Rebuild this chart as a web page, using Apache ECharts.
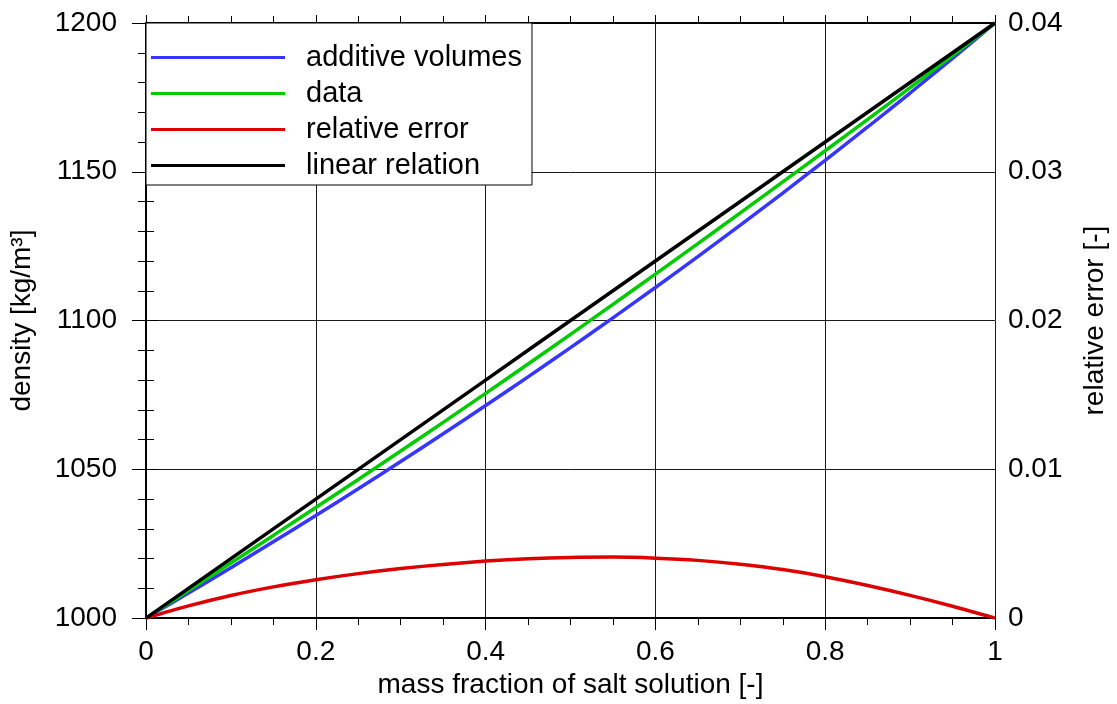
<!DOCTYPE html>
<html>
<head>
<meta charset="utf-8">
<title>Density of salt solution mixtures</title>
<script src="https://cdn.jsdelivr.net/npm/echarts@6/dist/echarts.min.js"></script>
<style>
  html, body { margin: 0; padding: 0; background: #fff; overflow: hidden; }
  #chart { width: 1117px; height: 704px; }
</style>
</head>
<body>
<div id="chart"></div>
<script>
// mass fraction of salt solution [-]
const massFraction = [0, 0.05, 0.1, 0.15, 0.2, 0.25, 0.3, 0.35, 0.4, 0.45, 0.5,
                      0.55, 0.6, 0.65, 0.7, 0.75, 0.8, 0.85, 0.9, 0.95, 1];

// density [kg/m³] assuming additive volumes
const additiveVolumes = [1000, 1008.40, 1016.95, 1025.64, 1034.48, 1043.48, 1052.63,
                         1061.95, 1071.43, 1081.08, 1090.91, 1100.92, 1111.11, 1121.50,
                         1132.08, 1142.86, 1153.85, 1165.05, 1176.47, 1188.12, 1200];

// measured density [kg/m³]
const measured = [1000, 1009.23, 1018.50, 1027.79, 1037.15, 1046.60, 1056.14, 1065.78,
                  1075.53, 1085.39, 1095.36, 1105.43, 1115.59, 1125.85, 1136.18, 1146.59,
                  1157.06, 1167.60, 1178.27, 1189.07, 1200];

// relative error between measured density and additive volumes [-]
const relativeError = [0, 0.00082, 0.00152, 0.00210, 0.00258, 0.00299, 0.00333, 0.00361,
                       0.00383, 0.00399, 0.00408, 0.00410, 0.00403, 0.00388, 0.00362,
                       0.00326, 0.00278, 0.00219, 0.00153, 0.00080, 0];

// density [kg/m³] for a linear relation between the end points
const linearRelation = [1000, 1010, 1020, 1030, 1040, 1050, 1060, 1070, 1080, 1090, 1100,
                        1110, 1120, 1130, 1140, 1150, 1160, 1170, 1180, 1190, 1200];

const seriesNames = ['additive volumes', 'data', 'relative error', 'linear relation'];
const seriesColors = ['#3636ff', '#00cc00', '#dd0000', '#000000'];

const FONT = '"Liberation Sans", Arial, Helvetica, sans-serif';
const FS = 28;
const LINE_W = 3.5;

function pairs(ys) {
  return massFraction.map((x, i) => [x, ys[i]]);
}

// plain numbers without thousands separators
function plain(v) {
  return String(Math.round(v * 1e6) / 1e6);
}

const axisLineStyle = { show: true, lineStyle: { color: '#000', width: 2 } };
const gridLine = { show: true, lineStyle: { color: '#1a1a1a', width: 1 } };

const chart = echarts.init(document.getElementById('chart'), null, { renderer: 'canvas' });

chart.setOption({
  animation: false,
  backgroundColor: '#fff',
  textStyle: { fontFamily: FONT, color: '#000' },
  grid: { left: 146, right: 122, top: 23, bottom: 85, containLabel: false },
  legend: {
    orient: 'vertical',
    left: 146,
    top: 23,
    data: seriesNames,
    icon: 'rect',
    itemWidth: 134,
    itemHeight: 3,
    itemGap: 7,
    padding: [20, 10, 5, 5],
    backgroundColor: '#fff',
    borderColor: '#000',
    borderWidth: 1,
    borderRadius: 0,
    textStyle: { fontFamily: FONT, fontSize: 29, color: '#000', lineHeight: 24, padding: [0, 0, 0, 16] },
    z: 10
  },
  xAxis: [
    {
      type: 'value',
      position: 'bottom',
      min: 0, max: 1, interval: 0.2,
      name: 'mass fraction of salt solution [-]',
      nameLocation: 'middle',
      nameGap: 47,
      nameTextStyle: { fontFamily: FONT, fontSize: FS, color: '#000' },
      axisLine: axisLineStyle,
      axisTick: { show: true, inside: false, length: 12, lineStyle: { color: '#000', width: 1 } },
      minorTick: { show: true, splitNumber: 4, length: 7, lineStyle: { color: '#000', width: 1 } },
      axisLabel: { fontFamily: FONT, fontSize: FS, color: '#000', margin: 20, formatter: plain },
      splitLine: gridLine
    },
    {
      type: 'value',
      position: 'top',
      min: 0, max: 1, interval: 0.2,
      axisLine: axisLineStyle,
      axisTick: { show: true, inside: false, length: 8, lineStyle: { color: '#000', width: 1 } },
      minorTick: { show: true, splitNumber: 4, length: 7, lineStyle: { color: '#000', width: 1 } },
      axisLabel: { show: false },
      splitLine: { show: false }
    }
  ],
  yAxis: [
    {
      type: 'value',
      position: 'left',
      min: 1000, max: 1200, interval: 50,
      name: 'density [kg/m³]',
      nameLocation: 'middle',
      nameRotate: 90,
      nameGap: 110,
      nameTextStyle: { fontFamily: FONT, fontSize: FS, color: '#000' },
      axisLine: axisLineStyle,
      axisTick: { show: true, inside: false, length: 14, lineStyle: { color: '#000', width: 1 } },
      minorTick: { show: true, splitNumber: 5, length: 8, lineStyle: { color: '#000', width: 1 } },
      axisLabel: { fontFamily: FONT, fontSize: FS, color: '#000', margin: 29, formatter: plain },
      splitLine: gridLine
    },
    {
      type: 'value',
      position: 'right',
      min: 0, max: 0.04, interval: 0.01,
      name: 'relative error [-]',
      nameLocation: 'middle',
      nameRotate: 90,
      nameGap: 86,
      nameTextStyle: { fontFamily: FONT, fontSize: FS, color: '#000' },
      axisLine: axisLineStyle,
      axisTick: { show: true, inside: false, length: 12, lineStyle: { color: '#000', width: 1 } },
      minorTick: { show: true, splitNumber: 5, length: 8, lineStyle: { color: '#000', width: 1 } },
      axisLabel: { fontFamily: FONT, fontSize: FS, color: '#000', margin: 13, formatter: plain },
      splitLine: { show: false }
    }
  ],
  series: [
    {
      name: seriesNames[0], type: 'line', xAxisIndex: 0, yAxisIndex: 0,
      data: pairs(additiveVolumes), smooth: 0.3, showSymbol: false,
      lineStyle: { color: seriesColors[0], width: LINE_W }, itemStyle: { color: seriesColors[0] }, z: 3
    },
    {
      name: seriesNames[1], type: 'line', xAxisIndex: 0, yAxisIndex: 0,
      data: pairs(measured), smooth: 0.3, showSymbol: false,
      lineStyle: { color: seriesColors[1], width: LINE_W }, itemStyle: { color: seriesColors[1] }, z: 4
    },
    {
      name: seriesNames[2], type: 'line', xAxisIndex: 0, yAxisIndex: 1,
      data: pairs(relativeError), smooth: 0.3, showSymbol: false,
      lineStyle: { color: seriesColors[2], width: LINE_W }, itemStyle: { color: seriesColors[2] }, z: 5
    },
    {
      name: seriesNames[3], type: 'line', xAxisIndex: 0, yAxisIndex: 0,
      data: pairs(linearRelation), smooth: false, showSymbol: false,
      lineStyle: { color: seriesColors[3], width: LINE_W }, itemStyle: { color: seriesColors[3] }, z: 6
    }
  ]
});
</script>
</body>
</html>
